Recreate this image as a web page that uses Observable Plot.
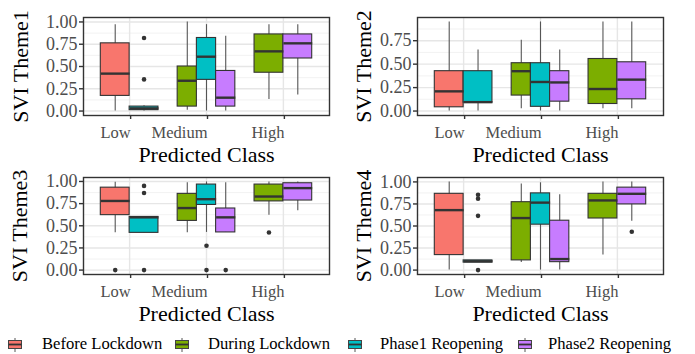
<!DOCTYPE html>
<html>
<head>
<meta charset="utf-8">
<script src="https://cdn.jsdelivr.net/npm/d3@7"></script>
<script src="https://cdn.jsdelivr.net/npm/@observablehq/plot@0.6"></script>
<style>
  html, body { margin: 0; padding: 0; background: white; }
  #root { position: relative; width: 695px; height: 354px; overflow: hidden; font-family: "Liberation Serif", "Times New Roman", serif; }
  .pnl { position: absolute; }
  #legend { position: absolute; left: 0; top: 333px; width: 695px; height: 22px; }
  .key { position: absolute; top: 0; }
  .lab { position: absolute; top: 0; line-height: 22px; height: 22px; font-size: 16.6px; color: black; white-space: nowrap; }
</style>
</head>
<body>
<div id="root">
  <div id="p1" class="pnl" style="left:0px;top:0px"></div>
  <div id="p2" class="pnl" style="left:345px;top:0px"></div>
  <div id="p3" class="pnl" style="left:0px;top:160px"></div>
  <div id="p4" class="pnl" style="left:345px;top:160px"></div>
  <div id="legend"></div>
</div>
<script>
// ---------- data ----------
const classes = ["Low", "Medium", "High"];
const periods = ["Before Lockdown", "During Lockdown", "Phase1 Reopening", "Phase2 Reopening"];
const periodColors = ["#F8766D", "#7CAE00", "#00BFC4", "#C77CFF"];

// boxes present (same in every panel)
const boxClass = ["Low", "Low", "Medium", "Medium", "Medium", "High", "High"];
const boxPeriod = ["Before Lockdown", "Phase1 Reopening", "During Lockdown", "Phase1 Reopening", "Phase2 Reopening", "During Lockdown", "Phase2 Reopening"];

// [lower whisker, Q1, median, Q3, upper whisker] per box
const theme1Stats = [
  [0.00, 0.17, 0.42, 0.76, 0.97],
  [0.00, 0.01, 0.03, 0.05, 0.06],
  [0.01, 0.05, 0.34, 0.50, 1.00],
  [0.00, 0.35, 0.61, 0.82, 0.97],
  [0.00, 0.05, 0.15, 0.45, 0.84],
  [0.13, 0.43, 0.67, 0.86, 0.97],
  [0.18, 0.59, 0.76, 0.86, 0.97]
];
const theme2Stats = [
  [0.00, 0.04, 0.21, 0.425, 0.95],
  [0.00, 0.09, 0.095, 0.425, 0.65],
  [0.025, 0.165, 0.425, 0.51, 0.755],
  [0.00, 0.045, 0.31, 0.51, 0.95],
  [0.00, 0.10, 0.305, 0.425, 0.65],
  [0.025, 0.075, 0.235, 0.555, 0.95],
  [0.025, 0.125, 0.335, 0.52, 0.95]
];
const theme3Stats = [
  [0.42, 0.62, 0.78, 0.93, 0.99],
  [0.42, 0.42, 0.595, 0.60, 0.60],
  [0.42, 0.555, 0.70, 0.86, 0.985],
  [0.425, 0.735, 0.80, 0.965, 0.995],
  [0.425, 0.425, 0.595, 0.695, 0.985],
  [0.62, 0.775, 0.83, 0.965, 0.995],
  [0.67, 0.785, 0.925, 0.98, 0.995]
];
const theme4Stats = [
  [0.00, 0.17, 0.68, 0.865, 1.00],
  [0.085, 0.085, 0.10, 0.11, 0.11],
  [0.085, 0.11, 0.59, 0.77, 0.975],
  [0.00, 0.515, 0.765, 0.87, 0.99],
  [0.00, 0.09, 0.125, 0.56, 0.855],
  [0.17, 0.585, 0.79, 0.865, 1.00],
  [0.555, 0.745, 0.865, 0.935, 1.00]
];

// outliers: class, period, value
const theme1OutClass = ["Low", "Low"];
const theme1OutPeriod = ["Phase1 Reopening", "Phase1 Reopening"];
const theme1OutValue = [0.82, 0.355];

const theme2OutClass = [];
const theme2OutPeriod = [];
const theme2OutValue = [];

const theme3OutClass = ["Low", "Low", "Low", "Low", "Medium", "Medium", "Medium", "High"];
const theme3OutPeriod = ["Before Lockdown", "Phase1 Reopening", "Phase1 Reopening", "Phase1 Reopening", "Phase1 Reopening", "Phase1 Reopening", "Phase2 Reopening", "During Lockdown"];
const theme3OutValue = [0.00, 0.95, 0.87, 0.00, 0.275, 0.00, 0.00, 0.425];

const theme4OutClass = ["Low", "Low", "Low", "Low", "High"];
const theme4OutPeriod = ["Phase1 Reopening", "Phase1 Reopening", "Phase1 Reopening", "Phase1 Reopening", "Phase2 Reopening"];
const theme4OutValue = [0.855, 0.81, 0.615, 0.00, 0.435];

const themeTitles = ["SVI Theme1", "SVI Theme2", "SVI Theme3", "SVI Theme4"];
const xTitle = "Predicted Class";

// ---------- helpers ----------
const dodgeWidth = 0.75;
function slot(cls, period) {
  const ci = classes.indexOf(cls);
  const present = periods.filter(p => boxClass.some((c, i) => c === cls && boxPeriod[i] === p));
  const n = present.length, k = present.indexOf(period);
  const w = dodgeWidth / n;
  const x1 = ci - dodgeWidth / 2 + k * w;
  return {x1, x2: x1 + w, x: x1 + w / 2};
}

function panel(el, stats, oc, op, ov, title, opts) {
  const boxes = stats.map((s, i) => {
    const sl = slot(boxClass[i], boxPeriod[i]);
    return {cls: boxClass[i], period: boxPeriod[i], ...sl, lo: s[0], q1: s[1], med: s[2], q3: s[3], hi: s[4]};
  });
  const outs = ov.map((v, i) => ({x: slot(oc[i], op[i]).x, y: v}));
  const all = stats.flat().concat(ov);
  const mn = d3.min(all), mx = d3.max(all), pad = (mx - mn) * 0.05;
  const domain = [mn - pad, mx + pad];
  const major = d3.range(0, 1.0001, 0.25).filter(t => t >= domain[0] && t <= domain[1]);
  const minor = d3.range(0.125, 1.2, 0.25).filter(t => t >= domain[0] && t <= domain[1]);
  const {width, height, ml, mt, ph, labelX} = opts;
  const pw = 246;
  const chart = Plot.plot({
    width, height,
    marginLeft: ml, marginRight: width - ml - pw, marginTop: mt, marginBottom: height - mt - ph,
    style: {fontFamily: '"Liberation Serif", serif', background: "transparent", overflow: "visible"},
    x: {domain: [-0.6, 2.6], axis: null},
    y: {domain, axis: null},
    color: {domain: periods, range: periodColors},
    marks: [
      Plot.gridY(minor, {stroke: "#EFEFEF", strokeOpacity: 1, strokeWidth: 0.8}),
      Plot.gridY(major, {stroke: "#E6E6E6", strokeOpacity: 1, strokeWidth: 1.4}),
      Plot.gridX([0, 1, 2], {stroke: "#E6E6E6", strokeOpacity: 1, strokeWidth: 1.4}),
      Plot.ruleX(boxes, {x: "x", y1: "lo", y2: "hi", stroke: "#555", strokeWidth: 1.1}),
      Plot.rect(boxes, {x1: "x1", x2: "x2", y1: "q1", y2: "q3", fill: "period", stroke: "#333", strokeWidth: 1.1}),
      Plot.link(boxes, {x1: "x1", x2: "x2", y1: "med", y2: "med", stroke: "#333", strokeWidth: 2.4}),
      Plot.dot(outs, {x: "x", y: "y", r: 2.3, fill: "#333", stroke: null}),
      Plot.frame({stroke: "#333", strokeWidth: 1.4}),
      Plot.axisY(major, {tickSize: 4, tickPadding: 2, tickFormat: d3.format(".2f"), fontSize: 18, stroke: "#333", fill: "#4D4D4D", strokeWidth: 1.4, label: null}),
      Plot.axisX([0, 1, 2], {tickSize: 4, tickPadding: 7, tickFormat: i => classes[i], textAnchor: "end", dx: 1, fontSize: 16.5, stroke: "#333", fill: "#4D4D4D", strokeWidth: 1.4, label: null}),
      Plot.text([title], {text: d => d, frameAnchor: "left", textAnchor: "middle", lineAnchor: "middle", dx: -(ml - labelX), rotate: -90, fontSize: 22, fill: "black"}),
      Plot.text([xTitle], {text: d => d, frameAnchor: "bottom", textAnchor: "middle", lineAnchor: "middle", dy: 39, fontSize: 22, fill: "black"})
    ]
  });
  document.getElementById(el).appendChild(chart);
}

panel("p1", theme1Stats, theme1OutClass, theme1OutPeriod, theme1OutValue, themeTitles[0], {width: 345, height: 165, ml: 83, mt: 17, ph: 98, labelX: 20});
panel("p2", theme2Stats, theme2OutClass, theme2OutPeriod, theme2OutValue, themeTitles[1], {width: 350, height: 165, ml: 72, mt: 17, ph: 98, labelX: 18});
panel("p3", theme3Stats, theme3OutClass, theme3OutPeriod, theme3OutValue, themeTitles[2], {width: 345, height: 165, ml: 83, mt: 17, ph: 97, labelX: 19});
panel("p4", theme4Stats, theme4OutClass, theme4OutPeriod, theme4OutValue, themeTitles[3], {width: 350, height: 165, ml: 72, mt: 17, ph: 97, labelX: 18});

// ---------- legend ----------
const legendKeyX = [8, 175, 348, 518];
const legendTextX = [42, 208, 380, 548];
const legend = document.getElementById("legend");
periods.forEach((p, i) => {
  const key = document.createElement("div");
  key.className = "key";
  key.style.left = legendKeyX[i] + "px";
  key.innerHTML = `<svg width="16" height="22"><line x1="7" x2="7" y1="5" y2="19" stroke="#555" stroke-width="1"/>
    <rect x="0.5" y="7.5" width="13" height="8" fill="${periodColors[i]}" stroke="#444" stroke-width="1"/>
    <line x1="0.5" x2="13.5" y1="11.5" y2="11.5" stroke="#333" stroke-width="1.8"/></svg>`;
  legend.appendChild(key);
  const lab = document.createElement("div");
  lab.className = "lab";
  lab.style.left = legendTextX[i] + "px";
  lab.textContent = p;
  legend.appendChild(lab);
});
</script>
</body>
</html>
